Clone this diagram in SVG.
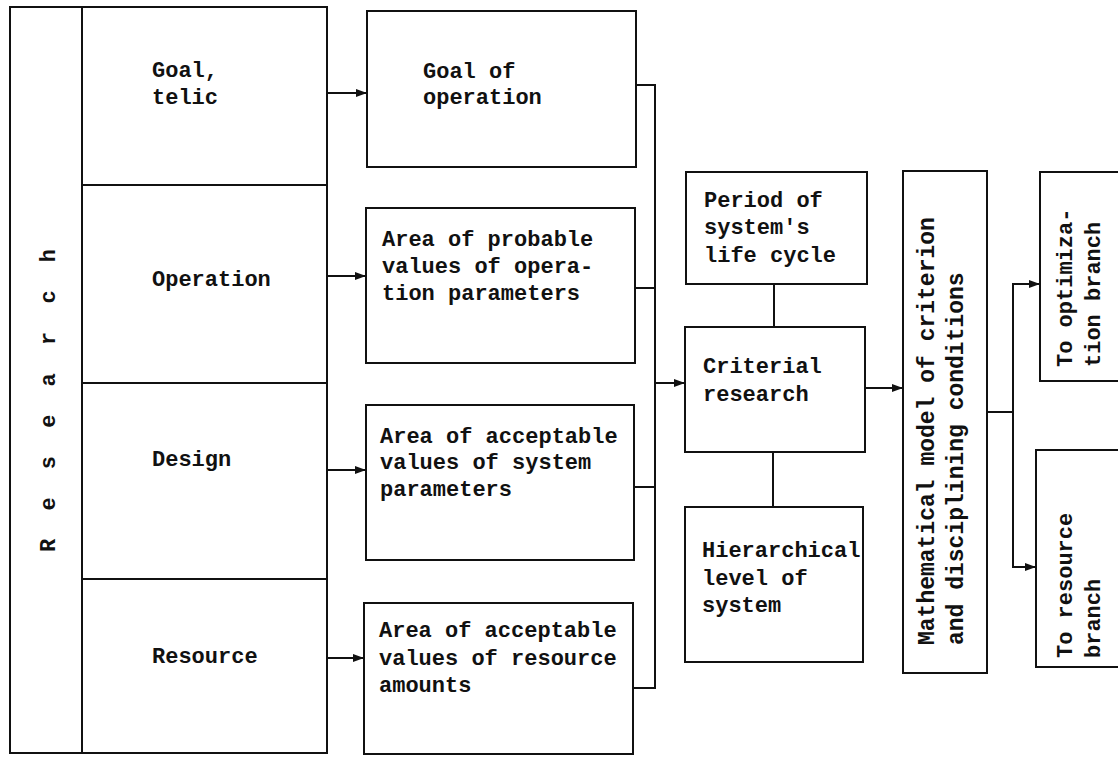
<svg xmlns="http://www.w3.org/2000/svg" width="1118" height="757" viewBox="0 0 1118 757">
<style>
.box{fill:none;stroke:#111;stroke-width:2}
.ln{fill:none;stroke:#111;stroke-width:2}
.t{font-family:"Liberation Mono","DejaVu Sans Mono",monospace;font-size:22px;font-weight:bold;fill:#111}
.tr{font-size:23px}
</style>
<defs>
<marker id="ah" markerUnits="userSpaceOnUse" markerWidth="11" markerHeight="8" refX="10" refY="4" orient="auto">
<path d="M0,0 L11,4 L0,8 z" fill="#111"/>
</marker>
</defs>
<rect width="1118" height="757" fill="#fff"/>

<g id="research">
<rect class="box" x="10" y="7" width="317" height="746"/>
<line class="ln" x1="82" y1="7" x2="82" y2="753"/>
<text class="t" transform="translate(55,552) rotate(-90)" letter-spacing="7.5">R e s e a r c h</text>
</g>
<g id="goal-telic">
<line class="ln" x1="82" y1="185" x2="327" y2="185"/>
<text class="t" x="152" y="77">Goal,</text>
<text class="t" x="152" y="104">telic</text>
</g>
<g id="operation">
<line class="ln" x1="82" y1="383" x2="327" y2="383"/>
<text class="t" x="152" y="286">Operation</text>
</g>
<g id="design">
<line class="ln" x1="82" y1="579" x2="327" y2="579"/>
<text class="t" x="152" y="466">Design</text>
</g>
<g id="resource">
<text class="t" x="152" y="663">Resource</text>
</g>

<g id="goal-of-operation">
<rect class="box" x="367" y="11" width="269" height="156"/>
<text class="t" x="423" y="78">Goal of</text>
<text class="t" x="423" y="104">operation</text>
</g>
<g id="operation-parameters">
<rect class="box" x="366" y="208" width="269" height="155"/>
<text class="t" x="382" y="246">Area of probable</text>
<text class="t" x="382" y="273">values of opera-</text>
<text class="t" x="382" y="300">tion parameters</text>
</g>
<g id="system-parameters">
<rect class="box" x="366" y="405" width="268" height="155"/>
<text class="t" x="380" y="443">Area of acceptable</text>
<text class="t" x="380" y="469">values of system</text>
<text class="t" x="380" y="496">parameters</text>
</g>
<g id="resource-amounts">
<rect class="box" x="364" y="603" width="269" height="151"/>
<text class="t" x="379" y="637">Area of acceptable</text>
<text class="t" x="379" y="665">values of resource</text>
<text class="t" x="379" y="692">amounts</text>
</g>

<g id="life-cycle">
<rect class="box" x="686" y="172" width="181" height="112"/>
<text class="t" x="704" y="207">Period of</text>
<text class="t" x="704" y="234">system's</text>
<text class="t" x="704" y="262">life cycle</text>
</g>
<g id="criterial-research">
<rect class="box" x="685" y="327" width="180" height="125"/>
<text class="t" x="703" y="373">Criterial</text>
<text class="t" x="703" y="401">research</text>
</g>
<g id="hierarchical-level">
<rect class="box" x="685" y="507" width="178" height="155"/>
<text class="t" x="702" y="557">Hierarchical</text>
<text class="t" x="702" y="585">level of</text>
<text class="t" x="702" y="612">system</text>
</g>

<g id="math-model">
<rect class="box" x="903" y="171" width="84" height="502"/>
<text class="t tr" transform="translate(934,645) rotate(-90)">Mathematical model of criterion</text>
<text class="t tr" transform="translate(963,645) rotate(-90)">and disciplining conditions</text>
</g>

<g id="optimization-branch">
<path class="box" d="M1125,172 H1040 V381 H1125"/>
<text class="t" transform="translate(1072,367) rotate(-90)">To optimiza-</text>
<text class="t" transform="translate(1100,367) rotate(-90)">tion branch</text>
</g>
<g id="resource-branch">
<path class="box" d="M1125,450 H1036 V667 H1125"/>
<text class="t" transform="translate(1072,658) rotate(-90)">To resource</text>
<text class="t" transform="translate(1100,658) rotate(-90)">branch</text>
</g>

<g id="connectors">
<path class="ln" d="M327,93 H366" marker-end="url(#ah)"/>
<path class="ln" d="M327,276 H365" marker-end="url(#ah)"/>
<path class="ln" d="M327,470 H365" marker-end="url(#ah)"/>
<path class="ln" d="M327,658 H363" marker-end="url(#ah)"/>
<path class="ln" d="M636,85 H655 M635,288 H655 M634,487 H655 M633,688 H655 M655,84 V689"/>
<path class="ln" d="M655,383 H684" marker-end="url(#ah)"/>
<path class="ln" d="M774,284 V327 M773,452 V507"/>
<path class="ln" d="M865,388 H902" marker-end="url(#ah)"/>
<path class="ln" d="M987,412 H1013 M1013,283 V568"/>
<path class="ln" d="M1013,284 H1039" marker-end="url(#ah)"/>
<path class="ln" d="M1013,567 H1035" marker-end="url(#ah)"/>
</g>
</svg>
